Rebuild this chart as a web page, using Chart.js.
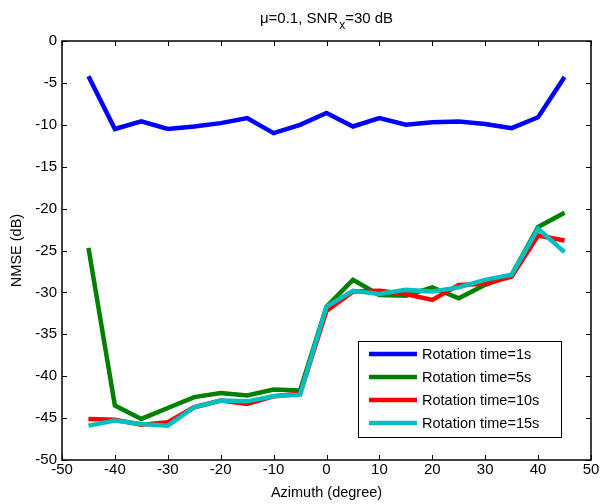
<!DOCTYPE html>
<html>
<head>
<meta charset="utf-8">
<script src="https://cdn.jsdelivr.net/npm/chart.js@4"></script>
<style>
  body { margin: 0; background: #fff; }
  #wrap { width: 601px; height: 504px; }
</style>
</head>
<body>
<div id="wrap"><canvas id="nmseChart" width="601" height="504"></canvas></div>
<script>
// Azimuth angles (degree) and NMSE (dB) for each rotation time
const azimuth = [-45, -40, -35, -30, -25, -20, -15, -10, -5, 0, 5, 10, 15, 20, 25, 30, 35, 40, 45];
const rot1  = [-4.2, -10.5, -9.6, -10.5, -10.2, -9.8, -9.2, -11.0, -10.0, -8.6, -10.2, -9.2, -10.0, -9.7, -9.6, -9.9, -10.4, -9.1, -4.3];
const rot5  = [-24.7, -43.5, -45.1, -43.8, -42.5, -42.0, -42.3, -41.6, -41.7, -31.7, -28.5, -30.3, -30.4, -29.4, -30.7, -29.1, -27.9, -22.2, -20.5];
const rot10 = [-45.1, -45.2, -45.8, -45.5, -43.7, -42.9, -43.3, -42.4, -42.1, -32.2, -29.9, -29.8, -30.2, -30.9, -29.1, -29.0, -28.1, -23.2, -23.8];
const rot15 = [-45.9, -45.3, -45.7, -45.9, -43.7, -42.9, -43.0, -42.4, -42.2, -31.7, -29.8, -30.2, -29.7, -29.9, -29.4, -28.5, -27.9, -22.4, -25.2];

const seriesLabels = ['Rotation time=1s', 'Rotation time=5s', 'Rotation time=10s', 'Rotation time=15s'];
const seriesColors = ['#0000ff', '#008000', '#ff0000', '#00bfbf'];
const seriesValues = [rot1, rot5, rot10, rot15];

const fontFamily = 'Arial, "Liberation Sans", Helvetica, sans-serif';
Chart.defaults.font.family = fontFamily;
Chart.defaults.font.size = 15;
Chart.defaults.color = '#000';

// build {x, y} points for each series
function toPoints(values) {
    return azimuth.map((a, i) => ({ x: a, y: values[i] }));
}

// MATLAB style box with inward ticks on all four sides
const boxPlugin = {
    id: 'boxPlugin',
    afterDraw(chart) {
        const ctx = chart.ctx;
        const { left, right, top, bottom } = chart.chartArea;
        const xs = chart.scales.x;
        const ys = chart.scales.y;
        ctx.save();
        ctx.strokeStyle = '#000';
        ctx.lineWidth = 1.5;
        ctx.strokeRect(left, top, right - left, bottom - top);
        ctx.lineWidth = 1;
        ctx.beginPath();
        xs.ticks.forEach(t => {
            const px = Math.round(xs.getPixelForValue(t.value)) + 0.5;
            ctx.moveTo(px, bottom); ctx.lineTo(px, bottom - 5);
            ctx.moveTo(px, top); ctx.lineTo(px, top + 5);
        });
        ys.ticks.forEach(t => {
            const py = Math.round(ys.getPixelForValue(t.value)) + 0.5;
            ctx.moveTo(left, py); ctx.lineTo(left + 5, py);
            ctx.moveTo(right, py); ctx.lineTo(right - 5, py);
        });
        ctx.stroke();
        ctx.restore();
    }
};

// title with subscript x
const titlePlugin = {
    id: 'titlePlugin',
    afterDraw(chart) {
        const ctx = chart.ctx;
        const { left, right } = chart.chartArea;
        const parts = [
            { text: '\u03bc=0.1, SNR', size: 15, dy: 0, gap: 1 },
            { text: 'x', size: 12, dy: 6, gap: 0 },
            { text: '=30 dB', size: 15, dy: 0, gap: 0 }
        ];
        ctx.save();
        ctx.fillStyle = '#000';
        ctx.textBaseline = 'alphabetic';
        let total = 0;
        parts.forEach(p => {
            ctx.font = p.size + 'px ' + fontFamily;
            p.w = ctx.measureText(p.text).width + p.gap;
            total += p.w;
        });
        let x = (left + right) / 2 - total / 2;
        parts.forEach(p => {
            ctx.font = p.size + 'px ' + fontFamily;
            ctx.fillText(p.text, x, 22.5 + p.dy);
            x += p.w;
        });
        ctx.restore();
    }
};

// legend box inside the plot area
const legendPlugin = {
    id: 'legendPlugin',
    afterDraw(chart) {
        const ctx = chart.ctx;
        const bx = 358, by = 341, bw = 203, bh = 96;
        ctx.save();
        ctx.fillStyle = '#fff';
        ctx.fillRect(bx, by, bw, bh);
        ctx.strokeStyle = '#000';
        ctx.lineWidth = 1;
        ctx.strokeRect(bx + 0.5, by + 0.5, bw, bh);
        ctx.font = '14.5px ' + fontFamily;
        ctx.textBaseline = 'middle';
        chart.data.datasets.forEach((ds, i) => {
            const y = by + 13 + i * 23;
            ctx.strokeStyle = ds.borderColor;
            ctx.lineWidth = 4.5;
            ctx.beginPath();
            ctx.moveTo(bx + 11, y);
            ctx.lineTo(bx + 59, y);
            ctx.stroke();
            ctx.fillStyle = '#000';
            ctx.fillText(ds.label, bx + 64, y + 1);
        });
        ctx.restore();
    }
};

const ctx = document.getElementById('nmseChart').getContext('2d');
const nmseChart = new Chart(ctx, {
    type: 'line',
    data: {
        datasets: seriesValues.map((vals, i) => ({
            label: seriesLabels[i],
            data: toPoints(vals),
            borderColor: seriesColors[i],
            backgroundColor: seriesColors[i],
            borderWidth: 4.5,
            pointRadius: 0,
            tension: 0,
            fill: false,
            order: seriesValues.length - i // later series drawn on top
        }))
    },
    options: {
        responsive: false,
        animation: false,
        layout: { padding: { top: 41, right: 10, left: 0, bottom: 0 } },
        plugins: {
            legend: { display: false },
            title: { display: false },
            tooltip: { enabled: false }
        },
        scales: {
            x: {
                type: 'linear',
                min: -50,
                max: 50,
                grid: { display: false, drawTicks: false },
                border: { display: false },
                ticks: { stepSize: 10, padding: 1, maxRotation: 0, autoSkip: false },
                title: { display: true, text: 'Azimuth (degree)', font: { size: 14.5 }, padding: { top: 0, bottom: 2 } },
                afterFit(scale) { scale.height = 44; }
            },
            y: {
                min: -50,
                max: 0,
                grid: { display: false, drawTicks: false },
                border: { display: false },
                ticks: { stepSize: 5, padding: 5, autoSkip: false },
                title: { display: true, text: 'NMSE (dB)', font: { size: 14.5 }, padding: { top: 8, bottom: 0 } },
                afterFit(scale) { scale.width = 62; }
            }
        }
    },
    plugins: [boxPlugin, titlePlugin, legendPlugin]
});
</script>
</body>
</html>
